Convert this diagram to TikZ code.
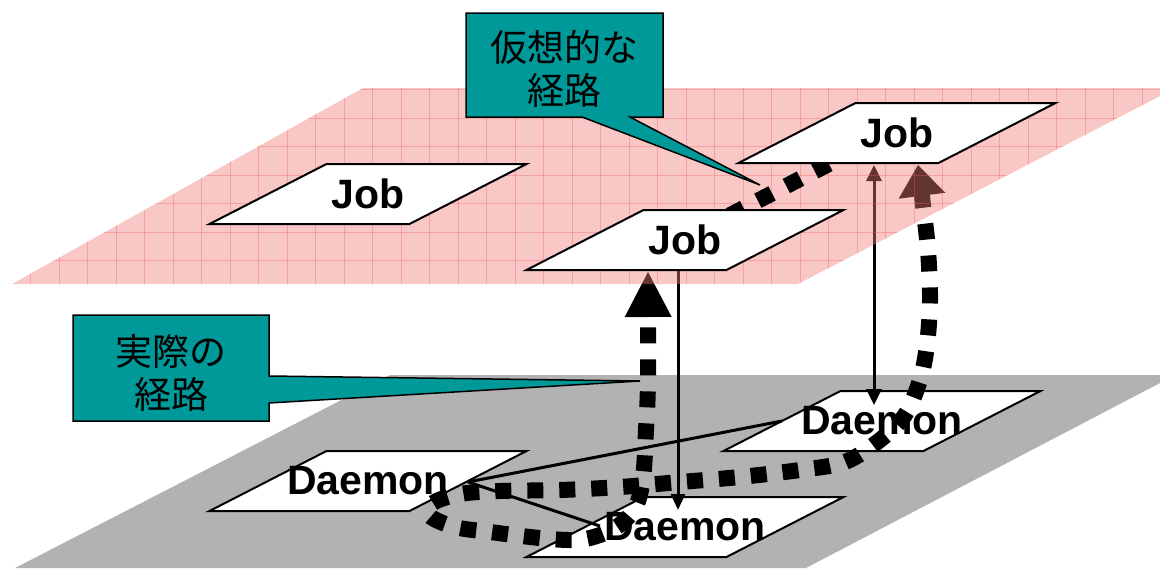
\documentclass[tikz,border=0pt]{standalone}
\usepackage{fontspec}
\setmainfont{Liberation Sans}
\newfontfamily\jpfont{Noto Sans CJK JP}
\usetikzlibrary{arrows.meta}
\pgfdeclarelayer{graylayer}
\pgfdeclarelayer{dbox}
\pgfdeclarelayer{conn}
\pgfdeclarelayer{pinklayer}
\pgfdeclarelayer{virt}
\pgfsetlayers{graylayer,dbox,conn,pinklayer,virt,main}
\definecolor{tealc}{RGB}{0,153,153}
\definecolor{planec}{RGB}{178,178,178}
\definecolor{pinkf}{RGB}{244,122,122}
\definecolor{gridc}{RGB}{240,90,90}
\tikzset{
  lbl/.style={font=\bfseries\fontsize{41}{41}\selectfont, inner sep=0pt},
  pgshape/.style={draw=black, fill=white, line width=2pt, line join=miter},
  thinconn/.style={line width=3pt},
  realpath/.style={line width=16pt, dash pattern=on 16pt off 16pt},
  virtpath/.style={line width=16pt, dash pattern=on 16pt off 16pt, dash phase=10.1pt},
  callout/.style={draw=black, fill=tealc, line width=1.5pt, line join=miter},
  ctext/.style={font=\jpfont\fontsize{37}{43}\selectfont, align=center, inner sep=0pt},
  gridline/.style={gridc, opacity=0.35, line width=1pt},
}
\newcommand\pgnode[3]{%
  \path[pgshape] (#2) ++(-158.5,30) -- ++(200,0) -- ++(117,-60) -- ++(-200,0) -- cycle;
  \node[lbl] (#1) at (#2) {#3};
}
\begin{document}
\begin{tikzpicture}[x=1pt,y=-1pt]
\useasboundingbox (0,0) rectangle (1160,568);
% lower (gray) plane
\begin{pgfonlayer}{graylayer}
  \fill[planec] (390,375) -- (1160,375) -- (1160,383) -- (806,568) -- (15,568) -- cycle;
\end{pgfonlayer}
% daemons
\begin{pgfonlayer}{dbox}
  \pgnode{D1}{368,481}{Daemon}
  \pgnode{D2}{685,527}{Daemon}
  \pgnode{D3}{882,421}{Daemon}
\end{pgfonlayer}
% jobs
\pgnode{J1}{368,194}{Job}
\pgnode{J2}{685,240}{Job}
\pgnode{J3}{897,133}{Job}
% connectors
\begin{pgfonlayer}{conn}
  \draw[thinconn] ([shift={(100,1)}]D1.center) -- ([shift={(-100,0)}]D3.center);
  \draw[thinconn] ([shift={(100,1)}]D1.center) -- ([shift={(-85,-1)}]D2.center);
  \draw[thinconn, -{Triangle[width=14pt,length=16pt]}] ([shift={(-7,30)}]J2.center) -- ([shift={(-7,-17)}]D2.center);
  \draw[thinconn, {Triangle[width=15pt,length=16pt]}-{Triangle[width=15pt,length=16pt]}] ([shift={(-23,32)}]J3.center) -- ([shift={(-8,-16)}]D3.center);
  \draw[realpath, {Triangle[width=47pt,length=31pt,line width=0pt]}-{Triangle[width=47pt,length=45pt,line width=0pt]}]
    plot[smooth, tension=0.55] coordinates {([shift={(21,32)}]J3.center) (923,205) (928,250) (930,300) (927,345) (920,380) (905,415) (880,440) (845,462) (800,470) (740,477) (680,482) (620,487) (560,490) (500,491) (460,494) (433,503) (430,516) (455,527) (490,532) (550,539) (585,539) (615,528) (635,508) (643,478) (646,430) (648,380) ([shift={(-37,32)}]J2.center)};
\end{pgfonlayer}
% upper (pink) plane
\begin{pgfonlayer}{pinklayer}
  \begin{scope}
    \clip (363,88) -- (1160,88) -- (1160,96) -- (798,284) -- (12,284) -- cycle;
    \fill[pinkf, opacity=0.42] (0,80) rectangle (1160,290);
    \foreach \i in {-30,...,11} \draw[gridline] ({857+28.5*\i},80) -- ({857+28.5*\i},290);
    \foreach \j in {-4,...,4} \draw[gridline] (0,{175+28.5*\j}) -- (1160,{175+28.5*\j});
  \end{scope}
\end{pgfonlayer}
% virtual path
\begin{pgfonlayer}{virt}
  \draw[virtpath] ([shift={(25,-14.5)}]J2.center) -- ([shift={(-47,20)}]J3.center);
\end{pgfonlayer}
% callouts
\draw[callout] (466,13) -- (663,13) -- (663,117) -- (630,117) -- (760,185) -- (582,117) -- (466,117) -- cycle;
\node[ctext] (C1) at (564.5,69) {仮想的な\\経路};
\draw[callout] (73,315) -- (269,315) -- (269,376) -- (640,381) -- (269,403) -- (269,421) -- (73,421) -- cycle;
\node[ctext] (C2) at (171,373) {実際の\\経路};
\end{tikzpicture}
\end{document}
